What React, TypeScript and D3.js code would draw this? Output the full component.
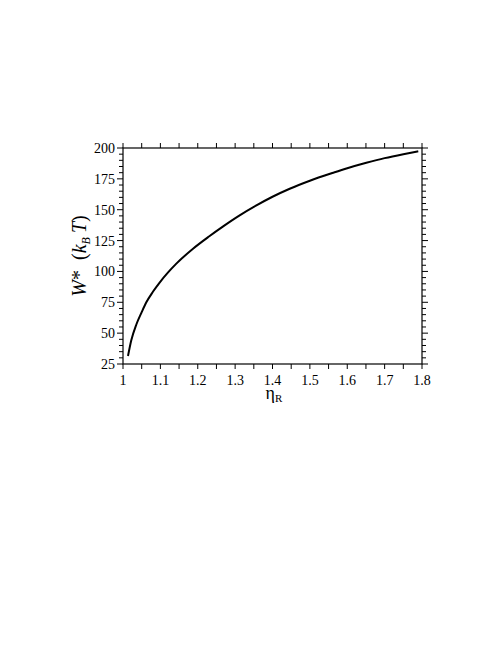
import React from "react";
import * as d3 from "d3";

const etaR = [1.0134, 1.022, 1.0357, 1.05, 1.0624, 1.08, 1.098, 1.12, 1.1427, 1.1873, 1.23, 1.268, 1.31, 1.357, 1.4, 1.446, 1.5, 1.563, 1.6, 1.651, 1.7, 1.75, 1.79];
const wStar = [31.5, 44, 57, 67, 75, 83.5, 91, 99, 106.3, 118.4, 128.3, 136.5, 145, 153.5, 160.5, 167, 173.5, 180, 183.6, 188, 191.8, 195, 197.3];
const xTicks = [1, 1.1, 1.2, 1.3, 1.4, 1.5, 1.6, 1.7, 1.8];
const yTicks = [25, 50, 75, 100, 125, 150, 175, 200];

export default function App() {
  const W = 498, H = 649;
  const L = 123, R = 422, T = 148, B = 364;
  const x = d3.scaleLinear().domain([1, 1.8]).range([L, R]);
  const y = d3.scaleLinear().domain([25, 200]).range([B, T]);
  const xMinor = d3.range(0, 17).map(i => 1 + i * 0.05);
  const yMinor = d3.range(0, 36).map(i => 25 + i * 5);
  const line = d3.line<number>().x((_, i) => x(etaR[i])).y(d => y(d)).curve(d3.curveMonotoneX);
  const font = "'Liberation Serif', 'Times New Roman', serif";
  return (
    <svg width={W} height={H} style={{ position: "absolute", left: 0, top: 0 }}>
      <rect width={W} height={H} fill="#fff" />
      <rect x={L} y={T} width={R - L} height={B - T} fill="none" stroke="#000" strokeWidth={1.2} />
      {xMinor.map((v, i) => (
        <g key={"x" + i}>
          <line x1={x(v)} x2={x(v)} y1={B} y2={B + 5} stroke="#000" strokeWidth={1} />
          <line x1={x(v)} x2={x(v)} y1={T} y2={T - 5} stroke="#000" strokeWidth={1} />
        </g>
      ))}
      {yMinor.map((v, i) => {
        const major = i % 5 === 0;
        const len = major ? 6 : 4;
        return (
          <g key={"y" + i}>
            <line x1={L} x2={L - len} y1={y(v)} y2={y(v)} stroke="#000" strokeWidth={1} />
            <line x1={R} x2={R + len} y1={y(v)} y2={y(v)} stroke="#000" strokeWidth={1} />
          </g>
        );
      })}
      {xTicks.map(v => (
        <text key={"xl" + v} x={x(v)} y={B + 21} textAnchor="middle" fontFamily={font} fontSize={14}>{String(v)}</text>
      ))}
      {yTicks.map(v => (
        <text key={"yl" + v} x={L - 8} y={y(v) + 5} textAnchor="end" fontFamily={font} fontSize={14}>{v}</text>
      ))}
      <path d={line(wStar) || ""} fill="none" stroke="#000" strokeWidth={2} />
      <text x={x(1.4) - 7} y={B + 35} fontFamily={font} fontSize={18}>
        η<tspan fontSize={11} dy={3}>R</tspan>
      </text>
      <text transform={`translate(86, ${(T + B) / 2}) rotate(-90)`} textAnchor="middle" fontFamily={font} fontSize={20} xmlSpace="preserve">
        <tspan fontStyle="italic">W</tspan>*{"\u2002"}(<tspan fontStyle="italic">k</tspan><tspan fontStyle="italic" fontSize={12} dy={4}>B</tspan><tspan dy={-4} fontStyle="italic">{"\u2009"}T</tspan>)
      </text>
    </svg>
  );
}
